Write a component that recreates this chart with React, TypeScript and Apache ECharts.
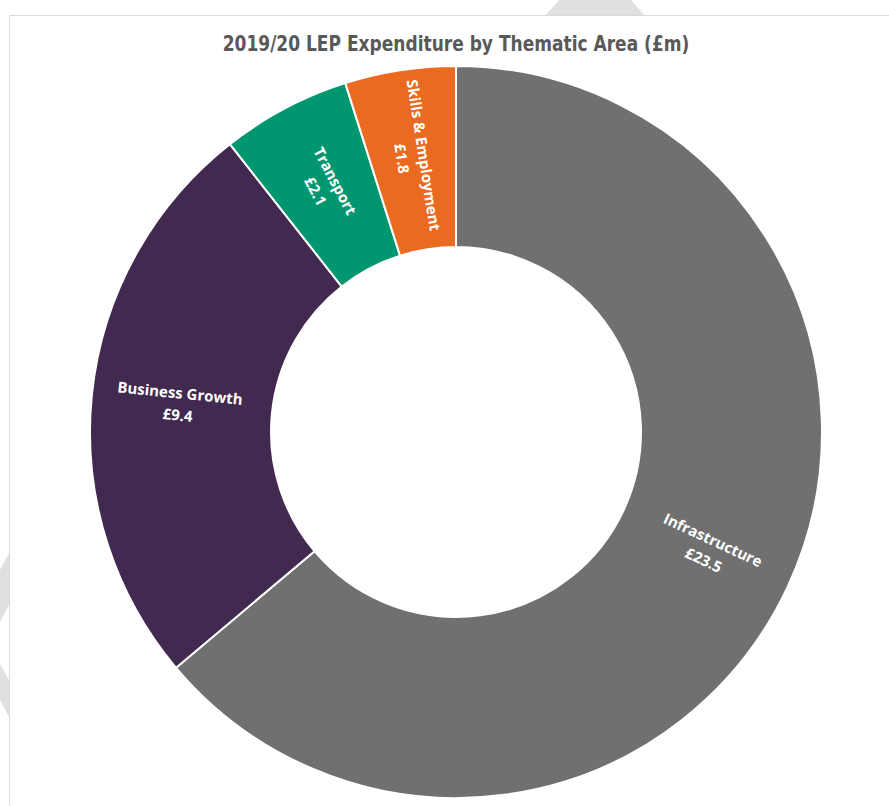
import React, { useEffect, useRef } from "react";
import * as echarts from "echarts";

const titleText = "2019/20 LEP Expenditure by Thematic Area (£m)";
const categories = ["Infrastructure", "Business Growth", "Transport", "Skills & Employment"];
const values = [23.5, 9.4, 2.1, 1.8];
const colors = ["#6f706f", "#41294f", "#009670", "#ea6a20"];

export default function App() {
  const ref = useRef<HTMLDivElement>(null);
  useEffect(() => {
    document.body.style.margin = "0";
    const chart = echarts.init(ref.current!, null, { renderer: "svg" });
    const data = categories.map((c, i) => ({
      name: c,
      value: values[i],
      itemStyle: { color: colors[i] },
    }));
    chart.setOption({
      animation: false,
      backgroundColor: "#ffffff",
      graphic: [
        { type: "polygon", z: -10, shape: { points: [[545, 16], [645, 16], [631, 0], [559, 0]] }, style: { fill: "#e0e0e0" } },
        { type: "polygon", z: -10, shape: { points: [[0, 570], [9, 553], [9, 605], [0, 622]] }, style: { fill: "#e0e0e0" } },
        { type: "polygon", z: -10, shape: { points: [[0, 664], [9, 680], [9, 717], [0, 700]] }, style: { fill: "#e0e0e0" } },
        { type: "rect", z: -5, shape: { x: 9.5, y: 15.5, width: 900, height: 820 }, style: { fill: "#ffffff", stroke: "#dadada", lineWidth: 1 } },
        {
          type: "text",
          z: 10,
          x: 456,
          y: 44,
          scaleX: 0.775,
          style: {
            text: titleText,
            align: "center",
            verticalAlign: "middle",
            fontFamily: "'DejaVu Sans', sans-serif",
            fontSize: 22,
            fontWeight: "bold",
            fill: "#595959",
          },
        },
      ],
      series: [
        {
          type: "pie",
          center: [456, 432],
          radius: [185, 366],
          startAngle: 90,
          clockwise: true,
          avoidLabelOverlap: false,
          itemStyle: { borderColor: "#ffffff", borderWidth: 2 },
          label: {
            show: true,
            position: "inside",
            rotate: "radial",
            color: "#ffffff",
            fontFamily: "'Open Sans', 'Noto Sans', sans-serif",
            fontWeight: "bold",
            fontSize: 15,
            lineHeight: 22,
            formatter: (p: any) => `${p.name}\n£${p.value}`,
          },
          labelLine: { show: false },
          emphasis: { disabled: true },
          data,
        },
      ],
    });
    return () => chart.dispose();
  }, []);
  return <div ref={ref} style={{ width: 889, height: 806 }} />;
}
